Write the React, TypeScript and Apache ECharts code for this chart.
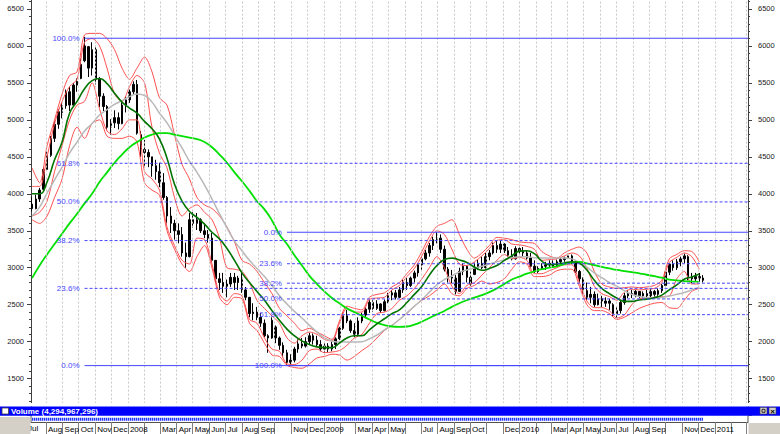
import React, { useEffect, useRef } from "react";
import * as echarts from "echarts";

// Weekly bars, one per week starting Fri 6 Jul 2007: [open, close, low, high]
const weeklyCandles: number[][] = [
  [3860, 3800, 3760, 3960], [3800, 3930, 3790, 3990], [3930, 4050, 3890, 4080], [4060, 4330, 4050, 4360],
  [4330, 4520, 4310, 4570], [4520, 4750, 4500, 4780], [4750, 4940, 4700, 4980], [4940, 5110, 4880, 5140],
  [5100, 5190, 5020, 5230], [5190, 5380, 5150, 5410], [5380, 5200, 5120, 5450], [5200, 5470, 5180, 5500],
  [5470, 5520, 5380, 5560], [5560, 5750, 5550, 5830], [5800, 6000, 5780, 6120], [5990, 5700, 5580, 6000],
  [5700, 5950, 5600, 6050], [5950, 5550, 5480, 6000], [5550, 5320, 5170, 5580], [5320, 5180, 5120, 5360],
  [5180, 4900, 4860, 5200], [4900, 4960, 4800, 5010], [4960, 5030, 4890, 5130], [5030, 4950, 4870, 5100],
  [4950, 5200, 4940, 5250], [5200, 5270, 5100, 5320], [5270, 5380, 5230, 5410], [5380, 5480, 5350, 5520],
  [5480, 4820, 4800, 5540], [4800, 4600, 4500, 4850], [4600, 4560, 4360, 4730], [4560, 4500, 4360, 4600],
  [4500, 4380, 4230, 4500], [4380, 4300, 4190, 4460], [4300, 4150, 4090, 4420], [4150, 3950, 3920, 4280],
  [3950, 3700, 3600, 3970], [3700, 3600, 3470, 3820], [3600, 3500, 3380, 3650], [3500, 3450, 3330, 3600],
  [3450, 3200, 3150, 3550], [3200, 3150, 3000, 3340], [3150, 3650, 3140, 3740], [3650, 3600, 3540, 3750],
  [3600, 3650, 3510, 3740], [3650, 3500, 3470, 3670], [3500, 3450, 3400, 3600], [3450, 3400, 3340, 3510],
  [3400, 3100, 3080, 3470], [3100, 2850, 2800, 3100], [2850, 2800, 2700, 2930], [2800, 2750, 2660, 2930],
  [2750, 2780, 2600, 2840], [2780, 2870, 2740, 2930], [2870, 2800, 2700, 2930], [2800, 2860, 2700, 2890],
  [2860, 2700, 2660, 2930], [2700, 2600, 2560, 2740], [2600, 2380, 2330, 2600], [2380, 2400, 2290, 2520],
  [2400, 2330, 2290, 2470], [2330, 2250, 2200, 2390], [2250, 2080, 2060, 2300], [2080, 2050, 1850, 2100],
  [2050, 2290, 2040, 2330], [2200, 2050, 1980, 2220], [2050, 1950, 1890, 2070], [1950, 1850, 1790, 1990],
  [1850, 1720, 1680, 1890], [1720, 1750, 1690, 1830], [1750, 1900, 1720, 1930], [1900, 1970, 1850, 2030],
  [1970, 1940, 1910, 2050], [1940, 2000, 1920, 2060], [2000, 2080, 1960, 2120], [2080, 2020, 1960, 2110],
  [2020, 1960, 1930, 2080], [1960, 1900, 1870, 2020], [1900, 1940, 1850, 1990], [1940, 1900, 1860, 1980],
  [1900, 1960, 1870, 2000], [1960, 2040, 1900, 2060], [2040, 2180, 2020, 2200], [2180, 2350, 2160, 2390],
  [2350, 2280, 2250, 2430], [2280, 2150, 2120, 2300], [2150, 2100, 2060, 2250], [2100, 2280, 2090, 2330],
  [2280, 2360, 2250, 2390], [2360, 2440, 2330, 2470], [2440, 2530, 2390, 2560], [2530, 2450, 2400, 2560],
  [2450, 2510, 2430, 2560], [2510, 2420, 2390, 2520], [2420, 2540, 2410, 2570], [2540, 2630, 2520, 2660],
  [2630, 2660, 2560, 2700], [2660, 2600, 2570, 2700], [2600, 2700, 2590, 2740], [2700, 2800, 2660, 2840],
  [2800, 2760, 2700, 2860], [2760, 2860, 2740, 2880], [2860, 2930, 2800, 2960], [2930, 3040, 2880, 3060],
  [3040, 3120, 2960, 3145], [3120, 3200, 3100, 3240], [3200, 3300, 3150, 3335], [3300, 3380, 3240, 3420],
  [3380, 3400, 3330, 3480], [3400, 3250, 3200, 3450], [3250, 2980, 2950, 3300], [2980, 2870, 2800, 3010],
  [2870, 2860, 2790, 2970], [2860, 2680, 2640, 2900], [2680, 2950, 2670, 3000], [2950, 3020, 2900, 3060],
  [3020, 2870, 2800, 3030], [2870, 2780, 2740, 2950], [2910, 3000, 2900, 3070], [3000, 3060, 2970, 3110],
  [3060, 3000, 2980, 3150], [3000, 3150, 2990, 3200], [3150, 3200, 3100, 3240], [3200, 3300, 3180, 3340],
  [3300, 3250, 3200, 3360], [3250, 3320, 3200, 3370], [3320, 3230, 3200, 3330], [3230, 3170, 3150, 3280],
  [3170, 3120, 3100, 3250], [3120, 3260, 3110, 3290], [3260, 3220, 3190, 3300], [3220, 3200, 3150, 3280],
  [3200, 3130, 3110, 3240], [3130, 3020, 3000, 3200], [3020, 2950, 2930, 3100], [2950, 2990, 2930, 3020],
  [2990, 3020, 2970, 3060], [3020, 3040, 2970, 3080], [3040, 3060, 3000, 3100], [3060, 3020, 3010, 3100],
  [3020, 3080, 3020, 3110], [3080, 3110, 3060, 3140], [3110, 3130, 3080, 3150], [3130, 3160, 3120, 3190],
  [3160, 3070, 3050, 3180], [3070, 2950, 2930, 3100], [2950, 2850, 2800, 2970], [2850, 2690, 2650, 2870],
  [2690, 2600, 2560, 2800], [2600, 2640, 2520, 2740], [2640, 2500, 2470, 2680], [2500, 2580, 2490, 2650],
  [2580, 2550, 2470, 2620], [2550, 2520, 2470, 2600], [2520, 2550, 2430, 2580], [2500, 2380, 2340, 2520],
  [2380, 2420, 2320, 2480], [2420, 2530, 2380, 2560], [2530, 2620, 2500, 2660], [2620, 2650, 2590, 2700],
  [2650, 2640, 2590, 2700], [2640, 2680, 2600, 2700], [2680, 2620, 2590, 2680], [2620, 2650, 2590, 2680],
  [2650, 2620, 2600, 2700], [2620, 2680, 2600, 2710], [2680, 2640, 2610, 2700], [2640, 2690, 2620, 2720],
  [2690, 2760, 2660, 2780], [2760, 2940, 2750, 2970], [2940, 3050, 2900, 3060], [3050, 3000, 2960, 3100],
  [3000, 3080, 2970, 3120], [3080, 3120, 3020, 3150], [3120, 3160, 3060, 3190], [3150, 2880, 2830, 3170],
  [2880, 2850, 2790, 2930], [2850, 2880, 2810, 2930], [2880, 2860, 2810, 2930], [2860, 2830, 2800, 2900],
];

// Indicator lines, sampled every second week
const maShort = [
  4000, 4000, 4160, 4460, 4700, 5090, 5250, 5420, 5530, 5560,
  5490, 5360, 5240, 5160, 5090, 4980, 4880, 4740, 4480, 4130,
  3900, 3760, 3680, 3590, 3480, 3390, 3260, 3100, 2930, 2800,
  2680, 2560, 2420, 2290, 2170, 2080, 2010, 1960, 1930, 1920,
  1920, 1980, 2050, 2080, 2080, 2160, 2240, 2310, 2380, 2430,
  2530, 2640, 2750, 2900, 3030, 3110, 3130, 3105, 3070, 3010,
  2965, 2990, 3030, 3100, 3160, 3225, 3230, 3190, 3090, 3040,
  3050, 3065, 3080, 3060, 2970, 2830, 2720, 2650, 2591, 2545,
  2545, 2564, 2575, 2595, 2630, 2700, 2767, 2845, 2875, 2915,
];
const maMid = [
  3700, 3820, 4010, 4190, 4360, 4550, 4700, 4850, 4950, 5065,
  5140, 5210, 5260, 5315, 5350, 5330, 5240, 5090, 4960, 4790,
  4620, 4440, 4290, 4120, 3930, 3730, 3540, 3360, 3230, 3100,
  2990, 2880, 2760, 2620, 2510, 2410, 2320, 2220, 2130, 2050,
  2010, 1995, 1995, 1995, 2000, 2040, 2090, 2160, 2220, 2300,
  2390, 2480, 2570, 2670, 2770, 2840, 2890, 2940, 2970, 2995,
  3020, 3050, 3080, 3110, 3135, 3150, 3150, 3135, 3130, 3130,
  3130, 3130, 3120, 3070, 3010, 2930, 2865, 2800, 2750, 2690,
  2640, 2610, 2595, 2590, 2600, 2618, 2640, 2665, 2700, 2735,
];
const maLong = [
  2860, 3030, 3180, 3320, 3460, 3600, 3730, 3870, 4000, 4160,
  4290, 4420, 4530, 4630, 4700, 4760, 4800, 4820, 4820, 4800,
  4780, 4760, 4740, 4700, 4630, 4530, 4420, 4290, 4170, 4040,
  3900, 3790, 3640, 3450, 3320, 3170, 3030, 2890, 2780, 2680,
  2590, 2520, 2450, 2400, 2350, 2300, 2255, 2225, 2205, 2200,
  2205, 2230, 2270, 2320, 2370, 2415, 2470, 2520, 2560, 2595,
  2630, 2670, 2720, 2780, 2840, 2880, 2920, 2950, 2980, 3000,
  3020, 3050, 3070, 3078, 3060, 3035, 3010, 2990, 2970, 2955,
  2940, 2925, 2905, 2885, 2865, 2840, 2830, 2820, 2815, 2810,
];
const bandOuterUpper = [
  4350, 4150, 4650, 5000, 5350, 5600, 5650, 6150, 6170, 6170,
  6100, 5950, 5700, 5550, 5700, 5850, 5650, 5300, 5200, 4800,
  4400, 4200, 3950, 3850, 3800, 3700, 3550, 3350, 3100, 3050,
  2950, 2800, 2650, 2450, 2350, 2250, 2150, 2180, 2130, 2080,
  2030, 2280, 2480, 2450, 2430, 2600, 2640, 2660, 2740, 2800,
  2920, 3040, 3220, 3420, 3560, 3600, 3650, 3450, 3250, 3130,
  3200, 3300, 3410, 3400, 3380, 3350, 3340, 3330, 3220, 3160,
  3130, 3200, 3250, 3280, 3200, 2950, 2780, 2740, 2720, 2730,
  2740, 2730, 2740, 2760, 2830, 3120, 3180, 3230, 3220, 3080,
];
const bandOuterLower = [
  3650, 3600, 3700, 3950, 4200, 4650, 4900, 4750, 4950, 5000,
  4780, 4750, 4750, 4780, 4700, 4150, 4050, 3980, 3500, 3250,
  3050, 2950, 3150, 3300, 3000, 2600, 2500, 2600, 2580, 2250,
  2150, 1980, 1820, 1800, 1680, 1650, 1640, 1700, 1780, 1800,
  1830, 1820, 1750, 1800, 1880, 1950, 2050, 2150, 2220, 2300,
  2380, 2480, 2560, 2620, 2700, 2780, 2650, 2620, 2720, 2760,
  2820, 2780, 2800, 2850, 2980, 3080, 3050, 2880, 2880, 2900,
  2960, 2980, 2980, 2750, 2500, 2420, 2420, 2380, 2300, 2330,
  2390, 2450, 2490, 2520, 2530, 2460, 2450, 2560, 2680, 2720,
];
const bandInnerUpper = [
  4100, 4100, 4500, 4950, 5250, 5450, 5550, 6050, 6100, 6000,
  5700, 5350, 5250, 5450, 5600, 5500, 4900, 4550, 4350, 3950,
  3700, 3800, 3850, 3750, 3650, 3400, 3000, 2980, 2950, 2800,
  2560, 2450, 2350, 2250, 2050, 1980, 2080, 2130, 2100, 2030,
  2010, 2250, 2450, 2400, 2400, 2570, 2590, 2600, 2700, 2760,
  2880, 2990, 3160, 3360, 3500, 3450, 3250, 3050, 3030, 3080,
  3160, 3260, 3370, 3380, 3320, 3310, 3290, 3250, 3100, 3110,
  3120, 3160, 3200, 3160, 3000, 2750, 2650, 2610, 2560, 2670,
  2710, 2700, 2710, 2720, 2800, 3070, 3140, 3200, 3150, 2980,
];
const bandInnerLower = [
  3700, 3750, 3900, 4300, 4650, 5000, 5200, 5250, 5500, 5150,
  4850, 4800, 4880, 5000, 5000, 4300, 4200, 4050, 3550, 3300,
  3100, 3050, 3400, 3380, 3050, 2650, 2550, 2650, 2620, 2300,
  2250, 2050, 1900, 1870, 1700, 1690, 1750, 1880, 1900, 1850,
  1860, 1880, 1950, 2050, 2100, 2250, 2380, 2400, 2450, 2560,
  2620, 2720, 2850, 3000, 3150, 3000, 2750, 2650, 2760, 2800,
  2900, 3000, 3100, 3180, 3120, 3140, 3100, 2920, 2920, 2960,
  3000, 3040, 3040, 2800, 2550, 2460, 2460, 2420, 2320, 2360,
  2500, 2580, 2590, 2600, 2610, 2620, 2850, 2950, 2780, 2780,
];

// Fibonacci retracements
const fibPercents = [0, 23.6, 38.2, 50, 61.8, 100];
const fib1 = { high: 6104, low: 1676, anchorWeek: 14 }; // labelled 0% at low, 100% at high
const fib2 = { high: 3480, low: 1676, anchorWeek: 68 }; // labelled 0% at high, 100% at low

// Month labels on the date axis ("YYYY-MM", text)
const monthLabels: [string, string][] = [
  ["2007-08", "Aug"], ["2007-09", "Sep"], ["2007-10", "Oct"], ["2007-11", "Nov"], ["2007-12", "Dec"],
  ["2008-01", "2008"], ["2008-03", "Mar"], ["2008-04", "Apr"], ["2008-05", "May"], ["2008-06", "Jun"],
  ["2008-07", "Jul"], ["2008-08", "Aug"], ["2008-09", "Sep"], ["2008-11", "Nov"], ["2008-12", "Dec"],
  ["2009-01", "2009"], ["2009-03", "Mar"], ["2009-04", "Apr"], ["2009-05", "May"], ["2009-07", "Jul"],
  ["2009-08", "Aug"], ["2009-09", "Sep"], ["2009-10", "Oct"], ["2009-12", "Dec"], ["2010-01", "2010"],
  ["2010-03", "Mar"], ["2010-04", "Apr"], ["2010-05", "May"], ["2010-06", "Jun"], ["2010-07", "Jul"],
  ["2010-08", "Aug"], ["2010-09", "Sep"], ["2010-11", "Nov"], ["2010-12", "Dec"], ["2011-01", "2011"],
];
const volumeTitle = "Volume (4,294,967,296)";

const FONT = '"Liberation Sans", Arial, sans-serif';
const FIB_BLUE = "#4646ff";

const ts = (y: number, m: number, d: number) => new Date(y, m, d).getTime();
const ymTs = (s: string) => {
  const [y, m] = s.split("-").map(Number);
  return ts(y, m - 1, 1);
};

export default function App() {
  const ref = useRef<HTMLDivElement>(null);

  useEffect(() => {
    if (!ref.current) return;
    const chart = echarts.init(ref.current, undefined, { renderer: "svg" });

    const tMin = ts(2007, 6, 4);
    const tMax = ts(2011, 2, 4);
    const weekTs = weeklyCandles.map((_, i) => ts(2007, 6, 6 + 7 * i));
    const sampleTs = maShort.map((_, s) => weekTs[2 * s]);

    const allMonths: number[] = [];
    {
      let y = 2007, m = 7;
      while (y < 2011 || (y === 2011 && m <= 2)) {
        allMonths.push(ts(y, m, 1));
        m++;
        if (m > 11) { m = 0; y++; }
      }
    }
    const labelMap = new Map<number, string>();
    monthLabels.forEach(([k, t]) => labelMap.set(ymTs(k), t));
    const labelTs = monthLabels.map(([k]) => ymTs(k));

    const line = (arr: number[], color: string, width: number, smooth: number, z: number) => ({
      type: "line",
      data: arr.map((v, s) => [sampleTs[s], v]),
      symbol: "none",
      smooth,
      silent: true,
      z,
      color,
      lineStyle: { color, width },
      emphasis: { disabled: true },
    });

    // Fibonacci levels as line series: two points each, label at the start point
    const fibSeries: any[] = [];
    const addFib = (start: number, value: number, text: string, solid: boolean) => {
      fibSeries.push({
        type: "line",
        silent: true,
        z: 6,
        color: FIB_BLUE,
        symbol: "circle",
        symbolSize: 0.01,
        showSymbol: true,
        itemStyle: { color: "rgba(0,0,0,0)" },
        lineStyle: { color: FIB_BLUE, width: 1, type: solid ? "solid" : [3, 2] },
        emphasis: { disabled: true },
        data: [
          {
            value: [start, value],
            label: {
              show: true,
              position: "left",
              distance: 5,
              formatter: text,
              color: FIB_BLUE,
              fontSize: 8,
              fontFamily: FONT,
            },
          },
          { value: [tMax, value], label: { show: false } },
        ],
      });
    };
    fibPercents.forEach((p) => {
      const v1 = fib1.low + (p / 100) * (fib1.high - fib1.low);
      addFib(weekTs[fib1.anchorWeek], v1, p.toFixed(1) + "%", p === 0 || p === 100);
      const v2 = fib2.high - (p / 100) * (fib2.high - fib2.low);
      addFib(weekTs[fib2.anchorWeek], v2, p.toFixed(1) + "%", p === 0 || p === 100);
    });

    const yAxisBase = (position: "left" | "right", margin: number) => ({
      type: "value",
      position,
      min: 1000,
      max: 7000,
      interval: 500,
      axisLine: { show: true, lineStyle: { color: "#404040", width: 1 } },
      axisTick: { show: true, length: 4, lineStyle: { color: "#404040" } },
      minorTick: { show: true, splitNumber: 5, length: 2, lineStyle: { color: "#404040" } },
      splitLine: { show: false },
      axisLabel: {
        margin,
        fontSize: 7.5,
        fontFamily: FONT,
        color: "#202020",
        formatter: (v: number) => (v < 1500 || v > 6500 ? "" : String(v)),
      },
    });

    const option: any = {
      animation: false,
      backgroundColor: "#ffffff",
      grid: {
        left: 31,
        right: 32,
        top: -28,
        height: 443.6,
        containLabel: false,
        outerBoundsMode: "none",
      },
      xAxis: {
        type: "value",
        min: tMin,
        max: tMax,
        offset: 6.5,
        axisLine: { show: true, onZero: false, lineStyle: { color: "#505050", width: 1 } },
        axisTick: { show: true, customValues: allMonths, length: 12, lineStyle: { color: "#808080" } },
        axisLabel: {
          customValues: labelTs,
          formatter: (v: number) => labelMap.get(v) ?? "",
          align: "left",
          padding: [0, 0, 0, 2],
          margin: 3,
          fontSize: 8,
          fontFamily: FONT,
          color: "#000000",
          hideOverlap: false,
        },
        splitLine: { show: false },
      },
      yAxis: [yAxisBase("left", 7), yAxisBase("right", 10)],
      series: [
        {
          // month grid lines
          type: "line",
          data: [[tMin, 1000]],
          symbol: "none",
          silent: true,
          z: 1,
          lineStyle: { opacity: 0 },
          markLine: {
            silent: true,
            symbol: ["none", "none"],
            animation: false,
            label: { show: false },
            lineStyle: { color: "#c8c8c8", width: 1, type: [2, 2] },
            data: allMonths.map((t) => ({ xAxis: t })),
          },
        },
        {
          type: "candlestick",
          data: weeklyCandles.map((c, i) => [weekTs[i], c[0], c[1], c[2], c[3]]),
          encode: { x: 0, y: [1, 2, 3, 4] },
          barWidth: 2,
          silent: true,
          z: 2,
          itemStyle: { color: "#000", color0: "#000", borderColor: "#000", borderColor0: "#000", borderWidth: 1 },
        },
        line(bandOuterUpper, "#ff5050", 1, 0.3, 3),
        line(bandOuterLower, "#ff5050", 1, 0.3, 3),
        line(bandInnerUpper, "#ff5050", 1, 0.3, 3),
        line(bandInnerLower, "#ff5050", 1, 0.3, 3),
        line(maMid, "#b8b8b8", 1.5, 0.5, 4),
        line(maLong, "#00e000", 1.8, 0.5, 4),
        line(maShort, "#007400", 1.6, 0.5, 5),
        ...fibSeries,
      ],
      graphic: [
        { type: "rect", z: 100, silent: true, shape: { x: 0, y: 403, width: 780, height: 3.5 }, style: { fill: "#ffffff" } },
        { type: "rect", z: 101, silent: true, shape: { x: 0, y: 406.5, width: 780, height: 9.3 }, style: { fill: "#0000ff" } },
        { type: "rect", z: 102, silent: true, shape: { x: 2, y: 408, width: 6.5, height: 6 }, style: { fill: "#ffffff", stroke: "#404040", lineWidth: 0.8 } },
        {
          type: "text", z: 102, silent: true, x: 11, y: 411.3,
          style: { text: volumeTitle, fill: "#ffffff", font: `bold 8px ${FONT}`, textVerticalAlign: "middle" },
        },
        { type: "rect", z: 102, silent: true, shape: { x: 760, y: 407.5, width: 7, height: 6.5 }, style: { fill: "#d4d0c8", stroke: "#404040", lineWidth: 0.6 } },
        { type: "rect", z: 103, silent: true, shape: { x: 762, y: 409.3, width: 3, height: 3 }, style: { fill: "none", stroke: "#000000", lineWidth: 0.8 } },
        { type: "rect", z: 102, silent: true, shape: { x: 769, y: 407.5, width: 7, height: 6.5 }, style: { fill: "#d4d0c8", stroke: "#404040", lineWidth: 0.6 } },
        {
          type: "text", z: 103, silent: true, x: 772.5, y: 411,
          style: { text: "×", fill: "#000000", font: `bold 8px ${FONT}`, textAlign: "center", textVerticalAlign: "middle" },
        },
        { type: "rect", z: 100, silent: true, shape: { x: 0, y: 415.8, width: 780, height: 5.8 }, style: { fill: "#ffffff" } },
        { type: "line", z: 101, silent: true, shape: { x1: 32, y1: 419.3, x2: 703, y2: 419.3 }, style: { stroke: "#2236ff", lineWidth: 3, lineDash: [1.4, 0.6] } },
        { type: "line", z: 101, silent: true, shape: { x1: 31, y1: 416, x2: 31, y2: 422 }, style: { stroke: "#505050", lineWidth: 1 } },
        { type: "line", z: 101, silent: true, shape: { x1: 748, y1: 416, x2: 748, y2: 422 }, style: { stroke: "#505050", lineWidth: 1 } },
        {
          type: "text", z: 100, silent: true, x: 28, y: 424.5,
          style: { text: "Jul", fill: "#000000", font: `8px ${FONT}` },
        },
        { type: "rect", z: 101, silent: true, shape: { x: 0, y: 417, width: 30.5, height: 17 }, style: { fill: "#d4d0c8" } },
        { type: "rect", z: 101, silent: true, shape: { x: 748.5, y: 423, width: 31.5, height: 11 }, style: { fill: "#d4d0c8" } },
      ],
    };

    chart.setOption(option);
    return () => chart.dispose();
  }, []);

  return (
    <div
      ref={ref}
      style={{ position: "absolute", left: 0, top: 0, width: 780, height: 434, background: "#fff" }}
    />
  );
}
